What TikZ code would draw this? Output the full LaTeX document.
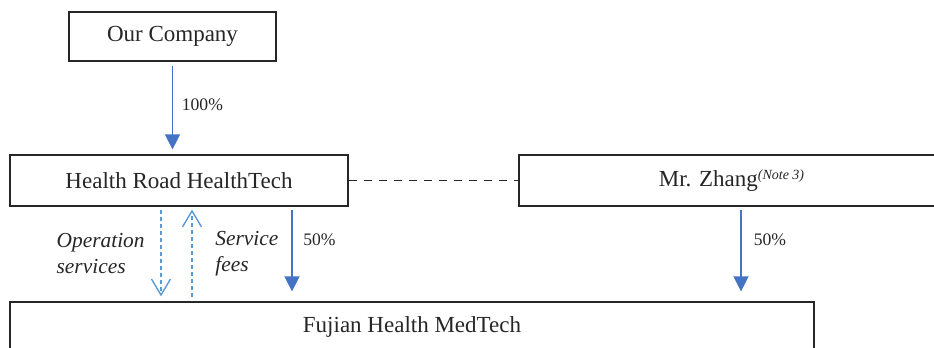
\documentclass[tikz,border=0pt]{standalone}
\usepackage{fontspec}
\setmainfont{Liberation Serif}
\usetikzlibrary{arrows.meta}

\definecolor{ownblue}{HTML}{4472C4}
\definecolor{flowblue}{HTML}{5B9BD5}
\definecolor{inkgray}{HTML}{262626}

\tikzstyle{entity} = [draw=inkgray, line width=0.6pt, inner sep=0pt, text=inkgray, font=\fontsize{11.5}{14}\selectfont]
\tikzstyle{own} = [draw=ownblue, line width=0.7pt, -{Triangle[length=7.5pt,width=7.5pt]}]
\tikzstyle{flow} = [draw=flowblue, line width=0.7pt, dash pattern=on 2pt off 1.5pt, -{Straight Barb[length=8pt,width=9.5pt]}]
\tikzstyle{pct} = [text=inkgray, font=\fontsize{8.8}{10}\selectfont]
\tikzstyle{flowlabel} = [text=inkgray, align=left, font=\fontsize{10.7}{13}\selectfont\itshape]
\tikzstyle{tie} = [draw=inkgray, line width=0.6pt, dash pattern=on 4pt off 3.5pt]

\begin{document}
\begin{tikzpicture}[x=0.5pt,y=-0.5pt]
       \clip (0,0) rectangle (934,348);
       \node[entity, minimum width=103.5pt, minimum height=24.5pt] (oc) at (172.5,36.5) {Our Company};
       \node[entity, minimum width=169pt, minimum height=25.5pt] (hr) at (179,180.5) {Health Road HealthTech};
       \node[entity, minimum width=212.5pt, minimum height=25.5pt] (zh) at (731.5,180.5)
            {Mr. Zhang\raisebox{3.3pt}{\fontsize{7}{8}\selectfont\itshape (Note 3)}};
       \node[entity, minimum width=402pt, minimum height=25pt] (fj) at (412,327) {Fujian Health MedTech};

       \coordinate (opx) at (161,0);
       \coordinate (feex) at (192,0);
       \coordinate (hrx) at (292,0);
       \coordinate (zhx) at (741,0);

       \draw[own, shorten <=2pt, shorten >=2.5pt] (oc.south) -- node[pct, right=1pt, pos=0.47] {100\%} (oc.south |- hr.north);
       \draw[tie] (hr.east) -- (zh.west);
       \draw[flow, shorten <=1.5pt, shorten >=2.5pt] (hr.south -| opx) -- node[flowlabel, left=4.5pt] {Operation\\services} (fj.north -| opx);
       \draw[flow, shorten <=2pt, shorten >=1.5pt] (fj.north -| feex) -- node[flowlabel, right=8pt] {Service\\fees} (hr.south -| feex);
       \draw[own, shorten <=1.5pt, shorten >=5pt] (hr.south -| hrx) -- node[pct, right=2pt, pos=0.35] {50\%} (fj.north -| hrx);
       \draw[own, shorten <=1.5pt, shorten >=5pt] (zh.south -| zhx) -- node[pct, right=2.7pt, pos=0.35] {50\%} (fj.north -| zhx);
     \end{tikzpicture}
\end{document}
